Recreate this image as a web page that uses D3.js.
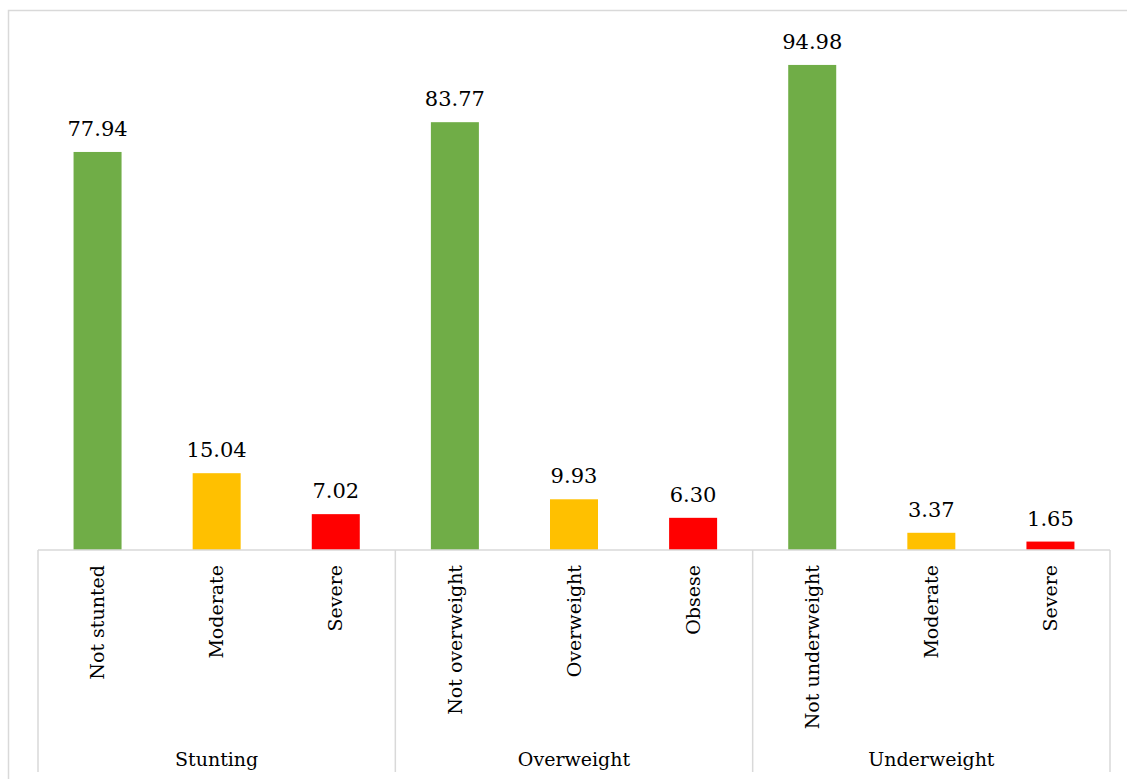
<!DOCTYPE html>
<html>
<head>
<meta charset="utf-8">
<script src="https://cdn.jsdelivr.net/npm/d3@7"></script>
<style>
  html, body { margin: 0; padding: 0; background: #fff; }
  svg { display: block; }
</style>
</head>
<body>
<svg id="chart" width="1127" height="779"></svg>
<script>
// Nutrition status categories, grouped by indicator
const categories = ["Not stunted", "Moderate", "Severe",
                    "Not overweight", "Overweight", "Obsese",
                    "Not underweight", "Moderate", "Severe"];
const groups = ["Stunting", "Overweight", "Underweight"];
const values = [77.94, 15.04, 7.02, 83.77, 9.93, 6.30, 94.98, 3.37, 1.65];
const levels = ["normal", "moderate", "severe",
                "normal", "moderate", "severe",
                "normal", "moderate", "severe"];
const yTicks = [0, 100];

const colorOf = { normal: "#70AD47", moderate: "#FFC000", severe: "#FF0000" };
const serif = "'DejaVu Serif', 'Noto Serif', serif";

const svg = d3.select("#chart")
  .attr("font-family", serif)
  .style("font-family", serif);
const plotLeft = 38, plotRight = 1110, baseY = 550, plotTop = 39.3, boxBottom = 772;
const grid = "#d9d9d9";

// Outer chart frame (runs past the visible edges on right and bottom)
svg.append("rect")
  .attr("x", 8.5).attr("y", 10.5)
  .attr("width", 1140).attr("height", 800)
  .attr("fill", "none").attr("stroke", grid).attr("stroke-width", 1.5);

const idx = categories.map((_, i) => i);
const x = d3.scaleBand().domain(idx).range([plotLeft, plotRight])
  .paddingInner(0.597).paddingOuter(0.2985);
const step = x.step();
const y = d3.scaleLinear().domain([yTicks[0], yTicks[1]]).range([baseY, plotTop]);

// Bars
svg.append("g").selectAll("rect").data(idx).join("rect")
  .attr("x", i => x(i))
  .attr("y", i => y(values[i]))
  .attr("width", x.bandwidth())
  .attr("height", i => y(0) - y(values[i]))
  .attr("fill", i => colorOf[levels[i]]);

// Value labels
svg.append("g").selectAll("text").data(idx).join("text")
  .attr("x", i => x(i) + x.bandwidth() / 2)
  .attr("y", i => y(values[i]) - 16)
  .attr("text-anchor", "middle")
  .attr("font-family", serif)
  .attr("font-size", "21px")
  .attr("fill", "#000")
  .text(i => values[i].toFixed(2));

// Category axis: baseline, group dividers and box edges
const axis = svg.append("g").attr("stroke", grid).attr("stroke-width", 1.5);
axis.append("line").attr("x1", plotLeft).attr("x2", plotRight)
  .attr("y1", baseY).attr("y2", baseY);
const dividers = [0, 3, 6, 9].map(k => plotLeft + k * step);
axis.selectAll("line.div").data(dividers).join("line")
  .attr("class", "div")
  .attr("x1", d => d).attr("x2", d => d)
  .attr("y1", baseY).attr("y2", boxBottom);

// Rotated category labels
svg.append("g").selectAll("text").data(idx).join("text")
  .attr("transform", i => `translate(${x(i) + x.bandwidth() / 2},${baseY + 15}) rotate(-90)`)
  .attr("text-anchor", "end")
  .attr("dy", "0.35em")
  .attr("font-family", serif)
  .attr("font-size", "19px")
  .attr("fill", "#000")
  .text(i => categories[i]);

// Group labels
svg.append("g").selectAll("text").data(groups).join("text")
  .attr("x", (g, k) => plotLeft + (k * 3 + 1.5) * step)
  .attr("y", 766)
  .attr("text-anchor", "middle")
  .attr("font-family", serif)
  .attr("font-size", "19px")
  .attr("fill", "#000")
  .text(g => g);
</script>
</body>
</html>
